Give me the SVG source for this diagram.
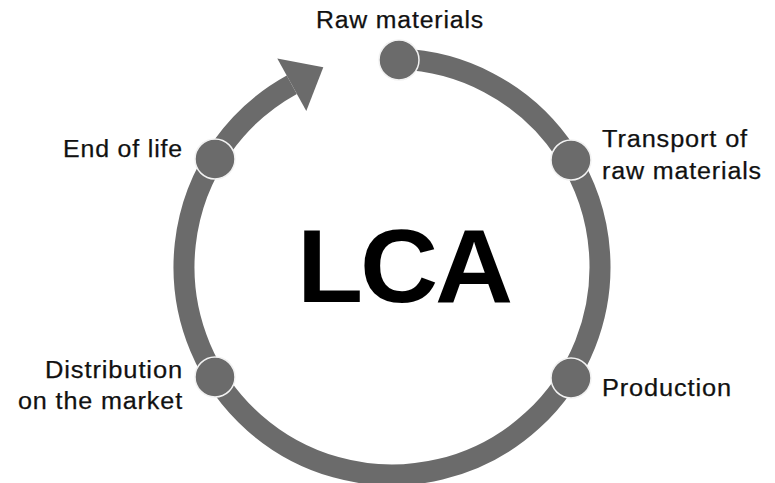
<svg xmlns="http://www.w3.org/2000/svg" width="775" height="483" viewBox="0 0 775 483">
  <style>
    .ring { fill: none; stroke: #6b6b6b; stroke-width: 21; }
    .head { fill: #6b6b6b; }
    .dot { fill: #6b6b6b; stroke: #f2f2f2; stroke-width: 1.5; }
    .lbl { font-family: "Liberation Sans", Arial, Helvetica, sans-serif; font-size: 23.5px; letter-spacing: 0.8px; fill: #111; stroke: #111; stroke-width: 0.25; }
    .title { font-family: "Liberation Sans", Arial, Helvetica, sans-serif; font-size: 103px; font-weight: bold; letter-spacing: -3px; fill: #000; }
  </style>
  <rect width="775" height="483" fill="#ffffff"/>

  <!-- cycle ring with arrowhead -->
  <g id="connectors">
    <path class="ring" d="M 399.3 59.1 A 208 208 0 1 1 291.8 84.7"/>
    <polygon class="head" points="277.3,58.4 323.3,67.3 306.3,111"/>
  </g>

  <g id="raw-materials">
    <circle class="dot" cx="399" cy="60" r="20"/>
    <text class="lbl" x="316" y="28" textLength="168" lengthAdjust="spacingAndGlyphs">Raw materials</text>
  </g>

  <g id="transport">
    <circle class="dot" cx="571" cy="160" r="20"/>
    <text class="lbl" x="602" y="147" textLength="146" lengthAdjust="spacingAndGlyphs">Transport of</text>
    <text class="lbl" x="602" y="179" textLength="160" lengthAdjust="spacingAndGlyphs">raw materials</text>
  </g>

  <g id="production">
    <circle class="dot" cx="571" cy="378" r="20"/>
    <text class="lbl" x="602" y="396" textLength="130" lengthAdjust="spacingAndGlyphs">Production</text>
  </g>

  <g id="distribution">
    <circle class="dot" cx="215" cy="377" r="20"/>
    <text class="lbl" x="45" y="378" textLength="138" lengthAdjust="spacingAndGlyphs">Distribution</text>
    <text class="lbl" x="18" y="409" textLength="165" lengthAdjust="spacingAndGlyphs">on the market</text>
  </g>

  <g id="end-of-life">
    <circle class="dot" cx="215" cy="159" r="20"/>
    <text class="lbl" x="63" y="157" textLength="120" lengthAdjust="spacingAndGlyphs">End of life</text>
  </g>

  <g id="lca">
    <text class="title" x="297" y="302" textLength="213" lengthAdjust="spacingAndGlyphs">LCA</text>
  </g>
</svg>
